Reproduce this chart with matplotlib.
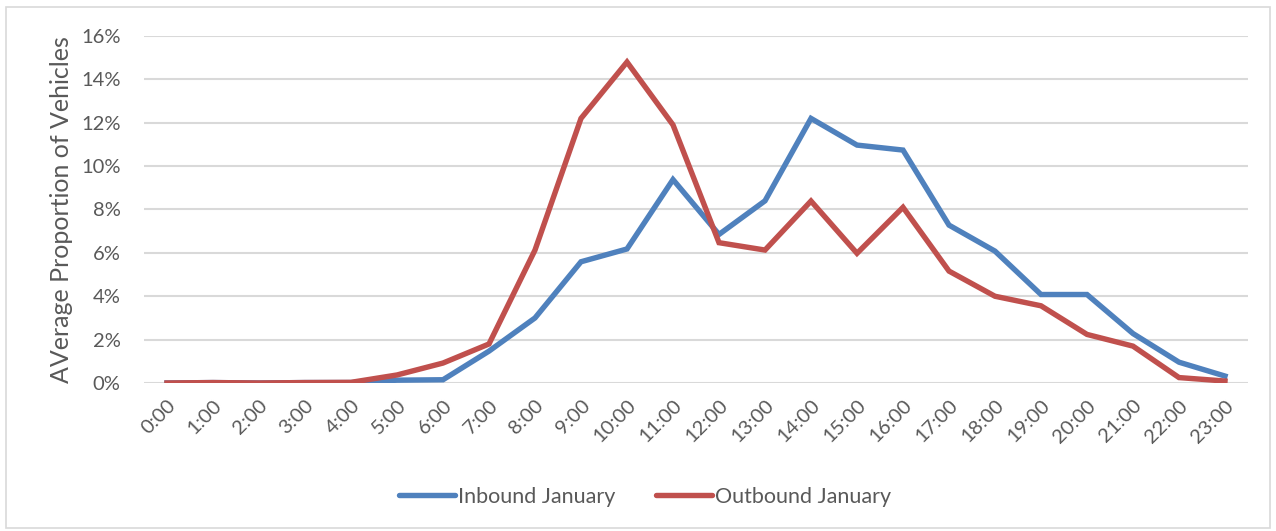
import matplotlib
matplotlib.use("Agg")
import matplotlib.pyplot as plt
from matplotlib.patches import Rectangle
from matplotlib.ticker import FuncFormatter, MultipleLocator

hours = [f"{h}:00" for h in range(24)]
inbound = [0.0, 0.02, 0.0, 0.02, 0.02, 0.13, 0.15, 1.47, 3.0, 5.59, 6.18, 9.38,
           6.85, 8.4, 12.2, 10.97, 10.74, 7.28, 6.08, 4.08, 4.08, 2.28, 0.96, 0.32]
outbound = [0.0, 0.02, 0.0, 0.02, 0.03, 0.37, 0.92, 1.8, 6.13, 12.2, 14.8, 11.9,
            6.47, 6.13, 8.39, 5.98, 8.1, 5.16, 4.0, 3.56, 2.24, 1.7, 0.25, 0.09]

BLUE = "#4F81BD"
RED = "#C0504D"
TEXT = "#595959"
GRID = "#D9D9D9"

plt.rcParams["font.family"] = ["Lato", "DejaVu Sans"]

fig = plt.figure(figsize=(12.76, 5.31), dpi=100)
ax = fig.add_axes([144 / 1276, 1 - 383 / 531, (1248 - 144) / 1276, (383 - 36) / 531])

x = list(range(len(hours)))
ax.plot(x, inbound, color=BLUE, lw=3.9, solid_joinstyle="miter", label="Inbound January", zorder=3)
ax.plot(x, outbound, color=RED, lw=3.9, solid_joinstyle="miter", label="Outbound January", zorder=3)

ax.set_xlim(-0.5, len(hours) - 0.5)
ax.set_ylim(0, 16)
ax.yaxis.set_major_locator(MultipleLocator(2))
ax.yaxis.set_major_formatter(FuncFormatter(lambda v, _: f"{v:.0f}%"))
ax.set_xticks(x)
ax.set_xticklabels(hours, rotation=45, ha="right", va="top", rotation_mode="anchor")
ax.grid(axis="y", color=GRID, lw=1.5, zorder=0)
for s in ax.spines.values():
    s.set_visible(False)
ax.tick_params(axis="both", length=0, labelsize=14.5, colors=TEXT)
ax.tick_params(axis="y", pad=17)
ax.tick_params(axis="x", pad=10)
ax.set_ylabel("AVerage Proportion of Vehicles", fontsize=18, color=TEXT)
ax.yaxis.set_label_coords((73 - 144) / 1104, 0.5)

leg = fig.legend(loc="center", bbox_to_anchor=(645 / 1276, 1 - 497 / 531), ncol=2,
                 frameon=False, fontsize=15.5, handlelength=2.6, handletextpad=0.15,
                 columnspacing=1.9)
for t in leg.get_texts():
    t.set_color(TEXT)
for h in leg.get_lines():
    h.set_linewidth(3.9)
    h.set_solid_capstyle("round")

fig.patches.append(Rectangle((6 / 1276, 1 - 528 / 531), 1264 / 1276, 521 / 531,
                             transform=fig.transFigure, fill=False,
                             edgecolor=GRID, lw=1.2))

fig.savefig("out.png", dpi=100, facecolor="white")
